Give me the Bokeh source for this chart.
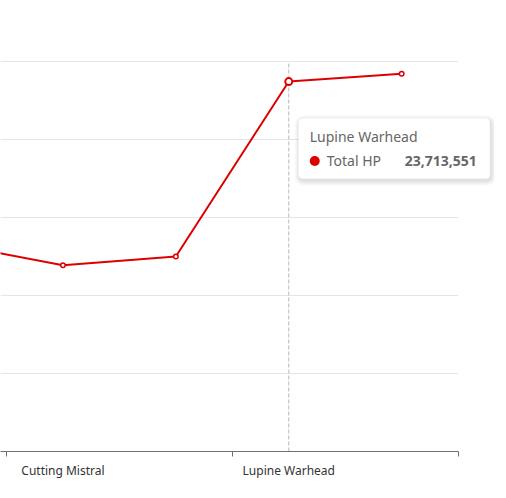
from bokeh.plotting import figure
from bokeh.models import Range1d, FixedTicker, BoxAnnotation, Label
from bokeh.embed import file_html
from bokeh.resources import INLINE

# ---- data ----
categories = ["(prev)", "Cutting Mistral", "(unlabeled 1)", "Lupine Warhead", "(unlabeled 2)"]
total_hp = [13310000, 11940000, 12500000, 23713551, 24210000]
labeled_categories = ["Cutting Mistral", "Lupine Warhead"]
y_ticks = [0, 5000000, 10000000, 15000000, 20000000, 25000000]
series_name = "Total HP"
hover_category = "Lupine Warhead"

RED = "#dd0000"
FONT = "Noto Sans"

xs = list(range(len(categories)))
W, H = 498, 490
PX_PER_CAT = 112.9
PX_PER_Y = 390 / (y_ticks[-1] - y_ticks[0])
BORDER_R = 4
FRAME_W = W - BORDER_R
TOP = 60
FRAME_H = 391
x_start = 0.5 - 6 / PX_PER_CAT
x_end = x_start + FRAME_W / PX_PER_CAT
x_last = len(categories) - 0.5
y_start = y_ticks[0]
y_end = y_ticks[-1] + 1 / PX_PER_Y

p = figure(width=W, height=H, output_backend="svg", toolbar_location=None,
           x_range=Range1d(x_start, x_end), y_range=Range1d(y_start, y_end),
           min_border_left=0, min_border_right=BORDER_R,
           min_border_top=TOP, min_border_bottom=H - TOP - FRAME_H)
p.outline_line_color = None
p.background_fill_color = "white"
p.border_fill_color = "white"

p.yaxis.visible = False
p.xgrid.visible = False
p.ygrid.visible = False

# horizontal grid lines, only across the category span
gy = y_ticks[1:]
p.segment(x0=[x_start] * len(gy), y0=gy, x1=[x_last] * len(gy), y1=gy,
          line_color="#E0E6F1", line_width=1)

label_pos = [categories.index(c) for c in labeled_categories]
boundaries = [i + 0.5 for i in range(0, len(categories), 2)]
ax = p.xaxis[0]
ax.bounds = (x_start, x_last)
ax.ticker = FixedTicker(ticks=label_pos, minor_ticks=boundaries)
ax.major_label_overrides = {i: c for i, c in zip(label_pos, labeled_categories)}
ax.axis_line_color = "#6E7079"
ax.major_tick_line_color = None
ax.major_tick_out = 0
ax.major_tick_in = 0
ax.minor_tick_line_color = "#6E7079"
ax.minor_tick_out = 5
ax.minor_tick_in = 0
ax.major_label_text_font = FONT
ax.major_label_text_font_size = "12px"
ax.major_label_text_color = "#333333"
ax.major_label_standoff = 5

hx = categories.index(hover_category)
hv = total_hp[hx]

# axis pointer
p.segment(x0=[hx], y0=[y_ticks[0]], x1=[hx], y1=[y_ticks[-1]], line_color="#B7B9BE",
          line_width=1, line_dash="4 2")

p.line(xs, total_hp, line_color=RED, line_width=2)
p.scatter(xs, total_hp, size=4.5, fill_color="white", line_color=RED, line_width=1.5)
p.scatter([hx], [hv], size=7, fill_color="white", line_color=RED, line_width=2)

# tooltip
def dx(px):
    return px / PX_PER_CAT
def dy(px):
    return px / PX_PER_Y

L, R, T, B = 10, 201, 37, 97
for k in range(1, 6):
    p.add_layout(BoxAnnotation(left=hx + dx(L + 1 - k), right=hx + dx(R + 1 + k),
                               top=hv - dy(T + 2 - k), bottom=hv - dy(B + 2 + k),
                               fill_color="black", fill_alpha=0.022, line_color=None,
                               border_radius=4 + k))
p.add_layout(BoxAnnotation(left=hx + dx(L), right=hx + dx(R), top=hv - dy(T), bottom=hv - dy(B),
                           fill_color="white", fill_alpha=1, line_color="white",
                           border_radius=4))
p.add_layout(BoxAnnotation(left=hx + dx(21), right=hx + dx(31), top=hv - dy(74.5),
                           bottom=hv - dy(84.5), fill_color=RED, fill_alpha=1,
                           line_color=None, border_radius=5))
p.add_layout(Label(x=hx + dx(21), y=hv - dy(55), text=hover_category, text_font=FONT,
                   text_font_size="14px", text_color="#666666", text_baseline="middle",
                   text_align="left"))
p.add_layout(Label(x=hx + dx(38), y=hv - dy(79), text=series_name, text_font=FONT,
                   text_font_size="14px", text_color="#666666", text_baseline="middle",
                   text_align="left"))
p.add_layout(Label(x=hx + dx(188), y=hv - dy(79), text=f"{hv:,}", text_font=FONT,
                   text_font_size="14px", text_color="#666666", text_font_style="bold",
                   text_baseline="middle", text_align="right"))

open("out.html", "w").write(file_html(p, INLINE))
